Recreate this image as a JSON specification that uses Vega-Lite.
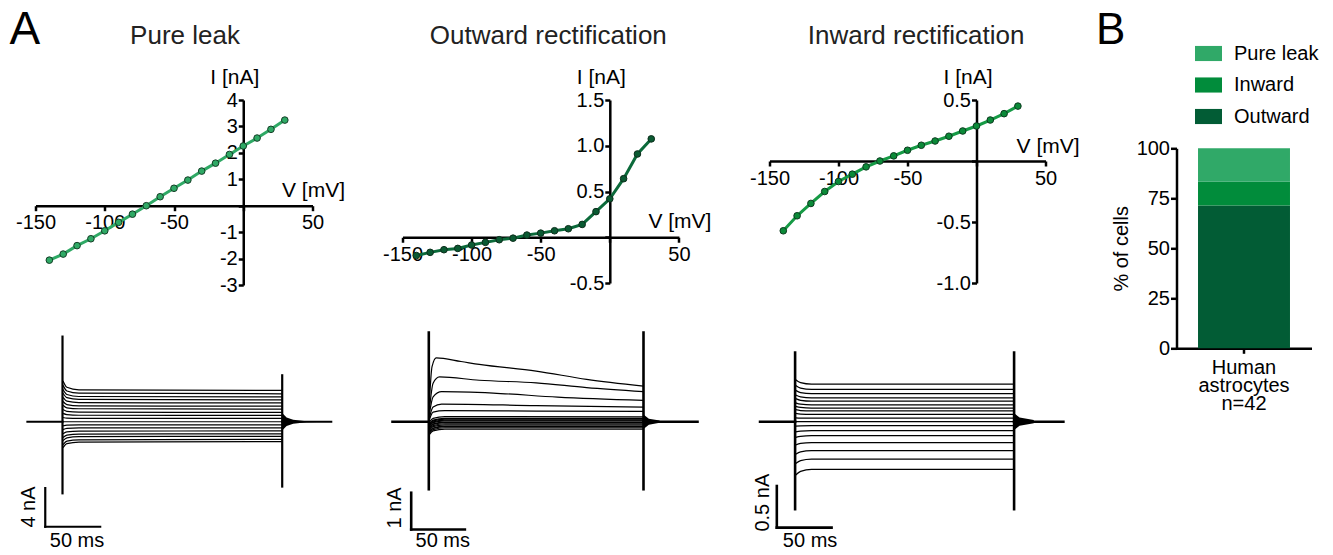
{
"$schema": "https://vega.github.io/schema/vega-lite/v6.json",
"padding": {"left": 9.5, "top": 7, "right": 5, "bottom": 2},
"spacing": 16,
"resolve": {"scale": {"color": "independent"}, "legend": {"color": "independent"}},
"config": {
  "font": "Liberation Sans",
  "view": {"stroke": null},
  "axis": {"domainColor": "black", "domainWidth": 2.5, "tickColor": "black", "tickWidth": 2.5, "tickSize": 5, "labelColor": "black", "labelFontSize": 20, "labelFont": "Liberation Sans", "titleFont": "Liberation Sans", "titleColor": "black", "titleFontSize": 21, "titleFontWeight": "normal", "grid": false, "labelPadding": 2},
  "title": {"font": "Liberation Sans", "fontSize": 26, "fontWeight": "normal", "color": "#222222"},
  "text": {"font": "Liberation Sans", "color": "black"},
  "legend": {"labelFont": "Liberation Sans", "labelColor": "black"}
},
"datasets": {
  "iv": [
    {"c":"leak","v":-140,"i":-2.06},{"c":"leak","v":-130,"i":-1.83},{"c":"leak","v":-120,"i":-1.51},{"c":"leak","v":-110,"i":-1.25},{"c":"leak","v":-100,"i":-0.95},{"c":"leak","v":-90,"i":-0.63},{"c":"leak","v":-80,"i":-0.32},{"c":"leak","v":-70,"i":0.0},{"c":"leak","v":-60,"i":0.34},{"c":"leak","v":-50,"i":0.66},{"c":"leak","v":-40,"i":0.97},{"c":"leak","v":-30,"i":1.31},{"c":"leak","v":-20,"i":1.61},{"c":"leak","v":-10,"i":1.94},{"c":"leak","v":0,"i":2.26},{"c":"leak","v":10,"i":2.56},{"c":"leak","v":20,"i":2.89},{"c":"leak","v":30,"i":3.24},
    {"c":"out","v":-140,"i":-0.20},{"c":"out","v":-130,"i":-0.165},{"c":"out","v":-120,"i":-0.136},{"c":"out","v":-110,"i":-0.122},{"c":"out","v":-100,"i":-0.085},{"c":"out","v":-90,"i":-0.056},{"c":"out","v":-80,"i":-0.027},{"c":"out","v":-70,"i":-0.01},{"c":"out","v":-60,"i":0.024},{"c":"out","v":-50,"i":0.045},{"c":"out","v":-40,"i":0.071},{"c":"out","v":-30,"i":0.093},{"c":"out","v":-20,"i":0.14},{"c":"out","v":-10,"i":0.28},{"c":"out","v":0,"i":0.42},{"c":"out","v":10,"i":0.64},{"c":"out","v":20,"i":0.91},{"c":"out","v":30,"i":1.075},
    {"c":"in","v":-140,"i":-0.572},{"c":"in","v":-130,"i":-0.449},{"c":"in","v":-120,"i":-0.348},{"c":"in","v":-110,"i":-0.25},{"c":"in","v":-100,"i":-0.168},{"c":"in","v":-90,"i":-0.108},{"c":"in","v":-80,"i":-0.048},{"c":"in","v":-70,"i":0.0},{"c":"in","v":-60,"i":0.042},{"c":"in","v":-50,"i":0.088},{"c":"in","v":-40,"i":0.129},{"c":"in","v":-30,"i":0.164},{"c":"in","v":-20,"i":0.203},{"c":"in","v":-10,"i":0.246},{"c":"in","v":0,"i":0.287},{"c":"in","v":10,"i":0.336},{"c":"in","v":20,"i":0.388},{"c":"in","v":30,"i":0.45}
  ],
  "sweeps": [
    {"c":"leak","s":1,"t":0.5,"i":-2.68},{"c":"leak","s":1,"t":4,"i":-2.27},{"c":"leak","s":1,"t":15,"i":-2.10},{"c":"leak","s":1,"t":200,"i":-2.06},
    {"c":"leak","s":2,"t":0.5,"i":-2.38},{"c":"leak","s":2,"t":4,"i":-2.01},{"c":"leak","s":2,"t":15,"i":-1.87},{"c":"leak","s":2,"t":200,"i":-1.83},
    {"c":"leak","s":3,"t":0.5,"i":-1.96},{"c":"leak","s":3,"t":4,"i":-1.66},{"c":"leak","s":3,"t":15,"i":-1.54},{"c":"leak","s":3,"t":200,"i":-1.51},
    {"c":"leak","s":4,"t":0.5,"i":-1.63},{"c":"leak","s":4,"t":4,"i":-1.38},{"c":"leak","s":4,"t":15,"i":-1.28},{"c":"leak","s":4,"t":200,"i":-1.25},
    {"c":"leak","s":5,"t":0.5,"i":-1.24},{"c":"leak","s":5,"t":4,"i":-1.05},{"c":"leak","s":5,"t":15,"i":-0.97},{"c":"leak","s":5,"t":200,"i":-0.95},
    {"c":"leak","s":6,"t":0.5,"i":-0.82},{"c":"leak","s":6,"t":4,"i":-0.69},{"c":"leak","s":6,"t":15,"i":-0.64},{"c":"leak","s":6,"t":200,"i":-0.63},
    {"c":"leak","s":7,"t":0.5,"i":-0.42},{"c":"leak","s":7,"t":4,"i":-0.35},{"c":"leak","s":7,"t":15,"i":-0.33},{"c":"leak","s":7,"t":200,"i":-0.32},
    {"c":"leak","s":8,"t":0.5,"i":0.0},{"c":"leak","s":8,"t":4,"i":0.0},{"c":"leak","s":8,"t":15,"i":0.0},{"c":"leak","s":8,"t":200,"i":0.0},
    {"c":"leak","s":9,"t":0.5,"i":0.44},{"c":"leak","s":9,"t":4,"i":0.37},{"c":"leak","s":9,"t":15,"i":0.35},{"c":"leak","s":9,"t":200,"i":0.34},
    {"c":"leak","s":10,"t":0.5,"i":0.86},{"c":"leak","s":10,"t":4,"i":0.73},{"c":"leak","s":10,"t":15,"i":0.67},{"c":"leak","s":10,"t":200,"i":0.66},
    {"c":"leak","s":11,"t":0.5,"i":1.26},{"c":"leak","s":11,"t":4,"i":1.07},{"c":"leak","s":11,"t":15,"i":0.99},{"c":"leak","s":11,"t":200,"i":0.97},
    {"c":"leak","s":12,"t":0.5,"i":1.70},{"c":"leak","s":12,"t":4,"i":1.44},{"c":"leak","s":12,"t":15,"i":1.34},{"c":"leak","s":12,"t":200,"i":1.31},
    {"c":"leak","s":13,"t":0.5,"i":2.09},{"c":"leak","s":13,"t":4,"i":1.77},{"c":"leak","s":13,"t":15,"i":1.64},{"c":"leak","s":13,"t":200,"i":1.61},
    {"c":"leak","s":14,"t":0.5,"i":2.52},{"c":"leak","s":14,"t":4,"i":2.13},{"c":"leak","s":14,"t":15,"i":1.98},{"c":"leak","s":14,"t":200,"i":1.94},
    {"c":"leak","s":15,"t":0.5,"i":2.94},{"c":"leak","s":15,"t":4,"i":2.49},{"c":"leak","s":15,"t":15,"i":2.31},{"c":"leak","s":15,"t":200,"i":2.26},
    {"c":"leak","s":16,"t":0.5,"i":3.33},{"c":"leak","s":16,"t":4,"i":2.82},{"c":"leak","s":16,"t":15,"i":2.61},{"c":"leak","s":16,"t":200,"i":2.56},
    {"c":"leak","s":17,"t":0.5,"i":3.76},{"c":"leak","s":17,"t":4,"i":3.18},{"c":"leak","s":17,"t":15,"i":2.95},{"c":"leak","s":17,"t":200,"i":2.89},
    {"c":"leak","s":18,"t":0.5,"i":4.21},{"c":"leak","s":18,"t":4,"i":3.56},{"c":"leak","s":18,"t":15,"i":3.30},{"c":"leak","s":18,"t":200,"i":3.24},
    {"c":"out","s":1,"t":0.5,"i":-0.35},{"c":"out","s":1,"t":4,"i":-0.25},{"c":"out","s":1,"t":15,"i":-0.20},{"c":"out","s":1,"t":200,"i":-0.20},
    {"c":"out","s":2,"t":0.5,"i":-0.315},{"c":"out","s":2,"t":4,"i":-0.215},{"c":"out","s":2,"t":15,"i":-0.165},{"c":"out","s":2,"t":200,"i":-0.165},
    {"c":"out","s":3,"t":0.5,"i":-0.286},{"c":"out","s":3,"t":4,"i":-0.186},{"c":"out","s":3,"t":15,"i":-0.136},{"c":"out","s":3,"t":200,"i":-0.136},
    {"c":"out","s":4,"t":0.5,"i":-0.272},{"c":"out","s":4,"t":4,"i":-0.172},{"c":"out","s":4,"t":15,"i":-0.122},{"c":"out","s":4,"t":200,"i":-0.122},
    {"c":"out","s":5,"t":0.5,"i":-0.235},{"c":"out","s":5,"t":4,"i":-0.135},{"c":"out","s":5,"t":15,"i":-0.085},{"c":"out","s":5,"t":200,"i":-0.085},
    {"c":"out","s":6,"t":0.5,"i":-0.206},{"c":"out","s":6,"t":4,"i":-0.106},{"c":"out","s":6,"t":15,"i":-0.056},{"c":"out","s":6,"t":200,"i":-0.056},
    {"c":"out","s":7,"t":0.5,"i":-0.177},{"c":"out","s":7,"t":4,"i":-0.077},{"c":"out","s":7,"t":15,"i":-0.027},{"c":"out","s":7,"t":200,"i":-0.027},
    {"c":"out","s":8,"t":0.5,"i":-0.16},{"c":"out","s":8,"t":4,"i":-0.06},{"c":"out","s":8,"t":15,"i":-0.01},{"c":"out","s":8,"t":200,"i":-0.01},
    {"c":"out","s":9,"t":0.5,"i":-0.126},{"c":"out","s":9,"t":4,"i":-0.026},{"c":"out","s":9,"t":15,"i":0.024},{"c":"out","s":9,"t":200,"i":0.024},
    {"c":"out","s":10,"t":0.5,"i":-0.105},{"c":"out","s":10,"t":4,"i":-0.005},{"c":"out","s":10,"t":15,"i":0.045},{"c":"out","s":10,"t":200,"i":0.045},
    {"c":"out","s":11,"t":0.5,"i":-0.079},{"c":"out","s":11,"t":4,"i":0.021},{"c":"out","s":11,"t":15,"i":0.071},{"c":"out","s":11,"t":200,"i":0.071},
    {"c":"out","s":12,"t":0.5,"i":-0.057},{"c":"out","s":12,"t":4,"i":0.043},{"c":"out","s":12,"t":15,"i":0.093},{"c":"out","s":12,"t":200,"i":0.093},
    {"c":"out","s":13,"t":0.5,"i":-0.01},{"c":"out","s":13,"t":4,"i":0.09},{"c":"out","s":13,"t":15,"i":0.14},{"c":"out","s":13,"t":200,"i":0.13},
    {"c":"out","s":14,"t":0.5,"i":0.05},{"c":"out","s":14,"t":4,"i":0.26},{"c":"out","s":14,"t":15,"i":0.30},{"c":"out","s":14,"t":100,"i":0.29},{"c":"out","s":14,"t":200,"i":0.28},
    {"c":"out","s":15,"t":0.5,"i":0.10},{"c":"out","s":15,"t":4,"i":0.40},{"c":"out","s":15,"t":12,"i":0.48},{"c":"out","s":15,"t":100,"i":0.44},{"c":"out","s":15,"t":200,"i":0.40},
    {"c":"out","s":16,"t":0.5,"i":0.20},{"c":"out","s":16,"t":4,"i":0.68},{"c":"out","s":16,"t":12,"i":0.82},{"c":"out","s":16,"t":60,"i":0.78},{"c":"out","s":16,"t":120,"i":0.67},{"c":"out","s":16,"t":200,"i":0.58},
    {"c":"out","s":17,"t":0.5,"i":0.30},{"c":"out","s":17,"t":4,"i":1.05},{"c":"out","s":17,"t":10,"i":1.22},{"c":"out","s":17,"t":47,"i":1.13},{"c":"out","s":17,"t":100,"i":1.06},{"c":"out","s":17,"t":147,"i":0.93},{"c":"out","s":17,"t":200,"i":0.82},
    {"c":"out","s":18,"t":0.5,"i":0.50},{"c":"out","s":18,"t":3,"i":1.50},{"c":"out","s":18,"t":7,"i":1.74},{"c":"out","s":18,"t":30,"i":1.64},{"c":"out","s":18,"t":47,"i":1.56},{"c":"out","s":18,"t":100,"i":1.38},{"c":"out","s":18,"t":147,"i":1.155},{"c":"out","s":18,"t":200,"i":0.97},
    {"c":"in","s":1,"t":0.5,"i":-0.64},{"c":"in","s":1,"t":5,"i":-0.595},{"c":"in","s":1,"t":15,"i":-0.572},{"c":"in","s":1,"t":200,"i":-0.572},
    {"c":"in","s":2,"t":0.5,"i":-0.503},{"c":"in","s":2,"t":5,"i":-0.467},{"c":"in","s":2,"t":15,"i":-0.449},{"c":"in","s":2,"t":200,"i":-0.449},
    {"c":"in","s":3,"t":0.5,"i":-0.39},{"c":"in","s":3,"t":5,"i":-0.362},{"c":"in","s":3,"t":15,"i":-0.348},{"c":"in","s":3,"t":200,"i":-0.348},
    {"c":"in","s":4,"t":0.5,"i":-0.28},{"c":"in","s":4,"t":5,"i":-0.26},{"c":"in","s":4,"t":15,"i":-0.25},{"c":"in","s":4,"t":200,"i":-0.25},
    {"c":"in","s":5,"t":0.5,"i":-0.188},{"c":"in","s":5,"t":5,"i":-0.175},{"c":"in","s":5,"t":15,"i":-0.168},{"c":"in","s":5,"t":200,"i":-0.168},
    {"c":"in","s":6,"t":0.5,"i":-0.121},{"c":"in","s":6,"t":5,"i":-0.112},{"c":"in","s":6,"t":15,"i":-0.108},{"c":"in","s":6,"t":200,"i":-0.108},
    {"c":"in","s":7,"t":0.5,"i":-0.054},{"c":"in","s":7,"t":5,"i":-0.05},{"c":"in","s":7,"t":15,"i":-0.048},{"c":"in","s":7,"t":200,"i":-0.048},
    {"c":"in","s":8,"t":0.5,"i":0.0},{"c":"in","s":8,"t":5,"i":0.0},{"c":"in","s":8,"t":15,"i":0.0},{"c":"in","s":8,"t":200,"i":0.0},
    {"c":"in","s":9,"t":0.5,"i":0.047},{"c":"in","s":9,"t":5,"i":0.044},{"c":"in","s":9,"t":15,"i":0.042},{"c":"in","s":9,"t":200,"i":0.042},
    {"c":"in","s":10,"t":0.5,"i":0.099},{"c":"in","s":10,"t":5,"i":0.092},{"c":"in","s":10,"t":15,"i":0.088},{"c":"in","s":10,"t":200,"i":0.088},
    {"c":"in","s":11,"t":0.5,"i":0.144},{"c":"in","s":11,"t":5,"i":0.134},{"c":"in","s":11,"t":15,"i":0.129},{"c":"in","s":11,"t":200,"i":0.129},
    {"c":"in","s":12,"t":0.5,"i":0.184},{"c":"in","s":12,"t":5,"i":0.171},{"c":"in","s":12,"t":15,"i":0.164},{"c":"in","s":12,"t":200,"i":0.164},
    {"c":"in","s":13,"t":0.5,"i":0.227},{"c":"in","s":13,"t":5,"i":0.211},{"c":"in","s":13,"t":15,"i":0.203},{"c":"in","s":13,"t":200,"i":0.203},
    {"c":"in","s":14,"t":0.5,"i":0.276},{"c":"in","s":14,"t":5,"i":0.256},{"c":"in","s":14,"t":15,"i":0.246},{"c":"in","s":14,"t":200,"i":0.246},
    {"c":"in","s":15,"t":0.5,"i":0.321},{"c":"in","s":15,"t":5,"i":0.298},{"c":"in","s":15,"t":15,"i":0.287},{"c":"in","s":15,"t":200,"i":0.287},
    {"c":"in","s":16,"t":0.5,"i":0.376},{"c":"in","s":16,"t":5,"i":0.349},{"c":"in","s":16,"t":15,"i":0.336},{"c":"in","s":16,"t":200,"i":0.336},
    {"c":"in","s":17,"t":0.5,"i":0.435},{"c":"in","s":17,"t":5,"i":0.404},{"c":"in","s":17,"t":15,"i":0.388},{"c":"in","s":17,"t":200,"i":0.388},
    {"c":"in","s":18,"t":0.5,"i":0.504},{"c":"in","s":18,"t":5,"i":0.468},{"c":"in","s":18,"t":15,"i":0.45},{"c":"in","s":18,"t":200,"i":0.45}
  ],
  "rules": [
    {"c":"leak","k":"spike","t":0,"t2":0,"i":-7.4,"i2":8.8},{"c":"leak","k":"spike","t":200,"t2":200,"i":-6.7,"i2":4.8},
    {"c":"leak","k":"baseline","t":-31.9,"t2":0,"i":0,"i2":0},{"c":"leak","k":"baseline","t":200,"t2":244.6,"i":0,"i2":0},
    {"c":"leak","k":"scalebar","t":-15.7,"t2":-15.7,"i":-6.86,"i2":-10.86},{"c":"leak","k":"scalebar","t":-15.7,"t2":34.3,"i":-10.86,"i2":-10.86},
    {"c":"out","k":"spike","t":0,"t2":0,"i":-1.84,"i2":2.43},{"c":"out","k":"spike","t":200,"t2":200,"i":-1.84,"i2":2.43},
    {"c":"out","k":"baseline","t":-33.8,"t2":0,"i":0,"i2":0},{"c":"out","k":"baseline","t":200,"t2":250.3,"i":0,"i2":0},
    {"c":"out","k":"scalebar","t":-16.4,"t2":-16.4,"i":-1.935,"i2":-2.935},{"c":"out","k":"scalebar","t":-16.4,"t2":33.6,"i":-2.935,"i2":-2.935},
    {"c":"in","k":"spike","t":0,"t2":0,"i":-1.05,"i2":0.83},{"c":"in","k":"spike","t":200,"t2":200,"i":-1.05,"i2":0.83},
    {"c":"in","k":"baseline","t":-32,"t2":0,"i":0,"i2":0},{"c":"in","k":"baseline","t":200,"t2":245,"i":0,"i2":0},
    {"c":"in","k":"scalebar","t":-16.7,"t2":-16.7,"i":-0.772,"i2":-1.272},{"c":"in","k":"scalebar","t":-16.7,"t2":33.3,"i":-1.272,"i2":-1.272}
  ],
  "rings": [
    {"c":"leak","t":200,"i":-0.9,"i2":0.9},{"c":"leak","t":204,"i":-0.45,"i2":0.45},{"c":"leak","t":210,"i":-0.2,"i2":0.2},{"c":"leak","t":222,"i":-0.06,"i2":0.06},{"c":"leak","t":232,"i":-0.03,"i2":0.03},
    {"c":"out","t":200,"i":-0.2,"i2":0.2},{"c":"out","t":205,"i":-0.08,"i2":0.08},{"c":"out","t":215,"i":-0.03,"i2":0.03},
    {"c":"in","t":200,"i":-0.1,"i2":0.1},{"c":"in","t":205,"i":-0.05,"i2":0.05},{"c":"in","t":218,"i":-0.02,"i2":0.02}
  ],
  "labels": [
    {"c":"leak","k":"amp","t":-30.1,"i":-8.82,"txt":"4 nA"},{"c":"leak","k":"time","t":13.2,"i":-12.34,"txt":"50 ms"},
    {"c":"out","k":"amp","t":-31.9,"i":-2.35,"txt":"1 nA"},{"c":"out","k":"time","t":13.0,"i":-3.25,"txt":"50 ms"},
    {"c":"in","k":"amp","t":-28.9,"i":-0.972,"txt":"0.5 nA"},{"c":"in","k":"time","t":13.7,"i":-1.432,"txt":"50 ms"}
  ],
  "cells": [
    {"group":"Human astrocytes n=42","type":"Outward","pct":71.43},
    {"group":"Human astrocytes n=42","type":"Inward","pct":11.9},
    {"group":"Human astrocytes n=42","type":"Pure leak","pct":16.67}
  ]
},
"hconcat": [
  {"bounds": "flush", "columns": 3, "spacing": {"row": 5, "column": 90},
   "title": {"text": "A", "anchor": "start", "frame": "group", "dx": -26, "offset": -67, "baseline": "alphabetic", "fontSize": 46, "color": "black"},
   "concat": [
      {"width": 277, "height": 185,
       "title": {"text": "Pure leak", "anchor": "middle", "frame": "group", "dx": 11, "offset": -4, "baseline": "alphabetic"},
       "encoding": {
         "x": {"field": "v", "type": "quantitative", "scale": {"domain": [-150, 50], "nice": false, "zero": false},
               "axis": {"orient": "bottom", "offset": -79.29, "values": [-150, -100, -50, 0, 50], "labelExpr": "datum.value === 0 ? '' : replace(datum.label, '\u2212', '-')", "labelFlush": false, "labelOverlap": false, "title": "V [mV]", "titleX": 246, "titleY": -9, "titleAlign": "left", "titleBaseline": "alphabetic"}},
         "y": {"field": "i", "type": "quantitative", "scale": {"domain": [-3, 4], "nice": false, "zero": false},
               "axis": {"orient": "left", "offset": -207.75, "values": [-3, -2, -1, 0, 1, 2, 3, 4], "labelExpr": "datum.value === 0 ? '' : replace(datum.label, '\u2212', '-')", "labelFlush": false, "labelOverlap": false, "labelPadding": 1, "title": "I [nA]", "titleX": -9, "titleY": -17, "titleAngle": 0, "titleAlign": "center", "titleBaseline": "alphabetic"}}
       },
       "layer": [
         {"data": {"name": "iv"}, "transform": [{"filter": "datum.c === 'leak'"}], "mark": {"type": "line", "color": "#2fa965", "strokeWidth": 3}},
         {"data": {"name": "iv"}, "transform": [{"filter": "datum.c === 'leak'"}], "mark": {"type": "point", "filled": true, "fill": "#2fa965", "stroke": "#143d26", "strokeWidth": 1, "size": 44, "opacity": 1}}
       ]},
      {"width": 276.4, "height": 183,
       "title": {"text": "Outward rectification", "anchor": "middle", "frame": "group", "dx": 7.6, "offset": -4, "baseline": "alphabetic"},
       "encoding": {
         "x": {"field": "v", "type": "quantitative", "scale": {"domain": [-150, 50], "nice": false, "zero": false},
               "axis": {"orient": "bottom", "offset": -45.75, "values": [-150, -100, -50, 0, 50], "labelExpr": "datum.value === 0 ? '' : replace(datum.label, '\u2212', '-')", "labelFlush": false, "labelOverlap": false, "title": "V [mV]", "titleX": 245.4, "titleY": -10, "titleAlign": "left", "titleBaseline": "alphabetic"}},
         "y": {"field": "i", "type": "quantitative", "scale": {"domain": [-0.5, 1.5], "nice": false, "zero": false},
               "axis": {"orient": "left", "offset": -207.3, "values": [-0.5, 0, 0.5, 1, 1.5], "format": ".1f", "labelExpr": "datum.value === 0 ? '' : replace(datum.label, '\u2212', '-')", "labelFlush": false, "labelOverlap": false, "labelPadding": 1, "title": "I [nA]", "titleX": -9, "titleY": -17, "titleAngle": 0, "titleAlign": "center", "titleBaseline": "alphabetic"}}
       },
       "layer": [
         {"data": {"name": "iv"}, "transform": [{"filter": "datum.c === 'out'"}], "mark": {"type": "line", "color": "#0b6a3a", "strokeWidth": 3}},
         {"data": {"name": "iv"}, "transform": [{"filter": "datum.c === 'out'"}], "mark": {"type": "point", "filled": true, "fill": "#0a5a32", "stroke": "#0d2e1c", "strokeWidth": 1, "size": 44, "opacity": 1}}
       ]},
      {"width": 276, "height": 183,
       "title": {"text": "Inward rectification", "anchor": "middle", "frame": "group", "dx": 8.6, "offset": -4, "baseline": "alphabetic"},
       "encoding": {
         "x": {"field": "v", "type": "quantitative", "scale": {"domain": [-150, 50], "nice": false, "zero": false},
               "axis": {"orient": "bottom", "offset": -122, "values": [-150, -100, -50, 0, 50], "labelExpr": "datum.value === 0 ? '' : replace(datum.label, '\u2212', '-')", "labelFlush": false, "labelOverlap": false, "title": "V [mV]", "titleX": 246.6, "titleY": -8.5, "titleAlign": "left", "titleBaseline": "alphabetic"}},
         "y": {"field": "i", "type": "quantitative", "scale": {"domain": [-1, 0.5], "nice": false, "zero": false},
               "axis": {"orient": "left", "offset": -207, "values": [-1, -0.5, 0, 0.5], "format": ".1f", "labelExpr": "datum.value === 0 ? '' : replace(datum.label, '\u2212', '-')", "labelFlush": false, "labelOverlap": false, "labelPadding": 1, "title": "I [nA]", "titleX": -9, "titleY": -17, "titleAngle": 0, "titleAlign": "center", "titleBaseline": "alphabetic"}}
       },
       "layer": [
         {"data": {"name": "iv"}, "transform": [{"filter": "datum.c === 'in'"}], "mark": {"type": "line", "color": "#169a45", "strokeWidth": 3}},
         {"data": {"name": "iv"}, "transform": [{"filter": "datum.c === 'in'"}], "mark": {"type": "point", "filled": true, "fill": "#0b8a38", "stroke": "#0d3a1f", "strokeWidth": 1, "size": 44, "opacity": 1}}
       ]},
      {"width": 277, "height": 230,
       "encoding": {
         "x": {"field": "t", "type": "quantitative", "scale": {"domain": [-24.58, 227.58], "nice": false, "zero": false}, "axis": null},
         "y": {"field": "i", "type": "quantitative", "scale": {"domain": [-10.16, 13.62], "nice": false, "zero": false}, "axis": null}
       },
       "layer": [
         {"data": {"name": "rings"}, "transform": [{"filter": "datum.c === 'leak'"}], "mark": {"type": "area", "color": "black"}, "encoding": {"y2": {"field": "i2"}}},
         {"data": {"name": "sweeps"}, "transform": [{"filter": "datum.c === 'leak'"}], "mark": {"type": "line", "color": "black", "strokeWidth": 1.2, "interpolate": "monotone"}, "encoding": {"detail": {"field": "s", "type": "nominal"}}},
         {"data": {"name": "rules"}, "transform": [{"filter": "datum.c === 'leak'"}], "mark": {"type": "rule", "color": "black", "strokeWidth": 2.2, "strokeCap": "square"}, "encoding": {"x2": {"field": "t2"}, "y2": {"field": "i2"}}},
         {"data": {"name": "labels"}, "transform": [{"filter": "datum.c === 'leak' && datum.k === 'amp'"}], "mark": {"type": "text", "fontSize": 20, "angle": 270, "align": "center", "baseline": "middle"}, "encoding": {"text": {"field": "txt"}}},
         {"data": {"name": "labels"}, "transform": [{"filter": "datum.c === 'leak' && datum.k === 'time'"}], "mark": {"type": "text", "fontSize": 20, "align": "center", "baseline": "middle"}, "encoding": {"text": {"field": "txt"}}}
       ]},
      {"width": 276.4, "height": 230,
       "encoding": {
         "x": {"field": "t", "type": "quantitative", "scale": {"domain": [-24.5, 232.98], "nice": false, "zero": false}, "axis": null},
         "y": {"field": "i", "type": "quantitative", "scale": {"domain": [-2.678, 3.589], "nice": false, "zero": false}, "axis": null}
       },
       "layer": [
         {"data": {"name": "rings"}, "transform": [{"filter": "datum.c === 'out'"}], "mark": {"type": "area", "color": "black"}, "encoding": {"y2": {"field": "i2"}}},
         {"data": {"name": "sweeps"}, "transform": [{"filter": "datum.c === 'out'"}], "mark": {"type": "line", "color": "black", "strokeWidth": 1.2, "interpolate": "monotone"}, "encoding": {"detail": {"field": "s", "type": "nominal"}}},
         {"data": {"name": "rules"}, "transform": [{"filter": "datum.c === 'out'"}], "mark": {"type": "rule", "color": "black", "strokeWidth": 2.6, "strokeCap": "square"}, "encoding": {"x2": {"field": "t2"}, "y2": {"field": "i2"}}},
         {"data": {"name": "labels"}, "transform": [{"filter": "datum.c === 'out' && datum.k === 'amp'"}], "mark": {"type": "text", "fontSize": 20, "angle": 270, "align": "center", "baseline": "middle"}, "encoding": {"text": {"field": "txt"}}},
         {"data": {"name": "labels"}, "transform": [{"filter": "datum.c === 'out' && datum.k === 'time'"}], "mark": {"type": "text", "fontSize": 20, "align": "center", "baseline": "middle"}, "encoding": {"text": {"field": "txt"}}}
       ]},
      {"width": 276, "height": 230,
       "encoding": {
         "x": {"field": "t", "type": "quantitative", "scale": {"domain": [-23.38, 228.68], "nice": false, "zero": false}, "axis": null},
         "y": {"field": "i", "type": "quantitative", "scale": {"domain": [-1.18, 1.581], "nice": false, "zero": false}, "axis": null}
       },
       "layer": [
         {"data": {"name": "rings"}, "transform": [{"filter": "datum.c === 'in'"}], "mark": {"type": "area", "color": "black"}, "encoding": {"y2": {"field": "i2"}}},
         {"data": {"name": "sweeps"}, "transform": [{"filter": "datum.c === 'in'"}], "mark": {"type": "line", "color": "black", "strokeWidth": 1.3, "interpolate": "monotone"}, "encoding": {"detail": {"field": "s", "type": "nominal"}}},
         {"data": {"name": "rules"}, "transform": [{"filter": "datum.c === 'in'"}], "mark": {"type": "rule", "color": "black", "strokeWidth": 2.6, "strokeCap": "square"}, "encoding": {"x2": {"field": "t2"}, "y2": {"field": "i2"}}},
         {"data": {"name": "labels"}, "transform": [{"filter": "datum.c === 'in' && datum.k === 'amp'"}], "mark": {"type": "text", "fontSize": 20, "angle": 270, "align": "center", "baseline": "middle"}, "encoding": {"text": {"field": "txt"}}},
         {"data": {"name": "labels"}, "transform": [{"filter": "datum.c === 'in' && datum.k === 'time'"}], "mark": {"type": "text", "fontSize": 20, "align": "center", "baseline": "middle"}, "encoding": {"text": {"field": "txt"}}}
       ]}
  ]},
  {"bounds": "flush", "spacing": 8.3,
   "resolve": {"scale": {"color": "independent"}, "legend": {"color": "independent"}},
   "vconcat": [
    {"width": 135, "height": 40,
     "title": {"text": "B", "anchor": "start", "frame": "group", "dx": -80.5, "offset": 12, "baseline": "alphabetic", "fontSize": 44, "color": "black"},
     "data": {"values": [{"txt": ""}]},
     "mark": {"type": "text"},
     "encoding": {"text": {"field": "txt"}}},
    {"width": 135, "height": 200,
     "data": {"name": "cells"},
     "transform": [{"calculate": "indexof(['Outward', 'Inward', 'Pure leak'], datum.type)", "as": "stackorder"}],
     "mark": {"type": "bar"},
     "encoding": {
       "x": {"field": "group", "type": "nominal", "scale": {"paddingInner": 0, "paddingOuter": 0.234},
             "axis": {"title": null, "labelAngle": 0, "labelExpr": "split(datum.label, ' ')", "labelLineHeight": 18, "labelPadding": 4, "tickSize": 5, "labelFontSize": 20, "labelBaseline": "top"}},
       "y": {"field": "pct", "type": "quantitative", "stack": "zero", "scale": {"domain": [0, 100], "nice": false},
             "axis": {"values": [0, 25, 50, 75, 100], "title": "% of cells", "titlePadding": 5, "titleFontSize": 20, "tickSize": 6, "labelPadding": 1}},
       "color": {"field": "type", "type": "nominal",
                 "scale": {"domain": ["Pure leak", "Inward", "Outward"], "range": ["#30a968", "#018c3b", "#025c35"]},
                 "legend": {"title": null, "orient": "none", "legendX": 18.5, "legendY": -108.3, "padding": 0, "symbolType": "M-1,-0.56H1V0.56H-1Z", "symbolSize": 729, "symbolStrokeWidth": 0, "symbolOpacity": 1, "labelFontSize": 20, "labelOffset": 12, "rowPadding": 7.5}},
       "order": {"field": "stackorder", "type": "quantitative"}
     }}
   ]}
]
}
